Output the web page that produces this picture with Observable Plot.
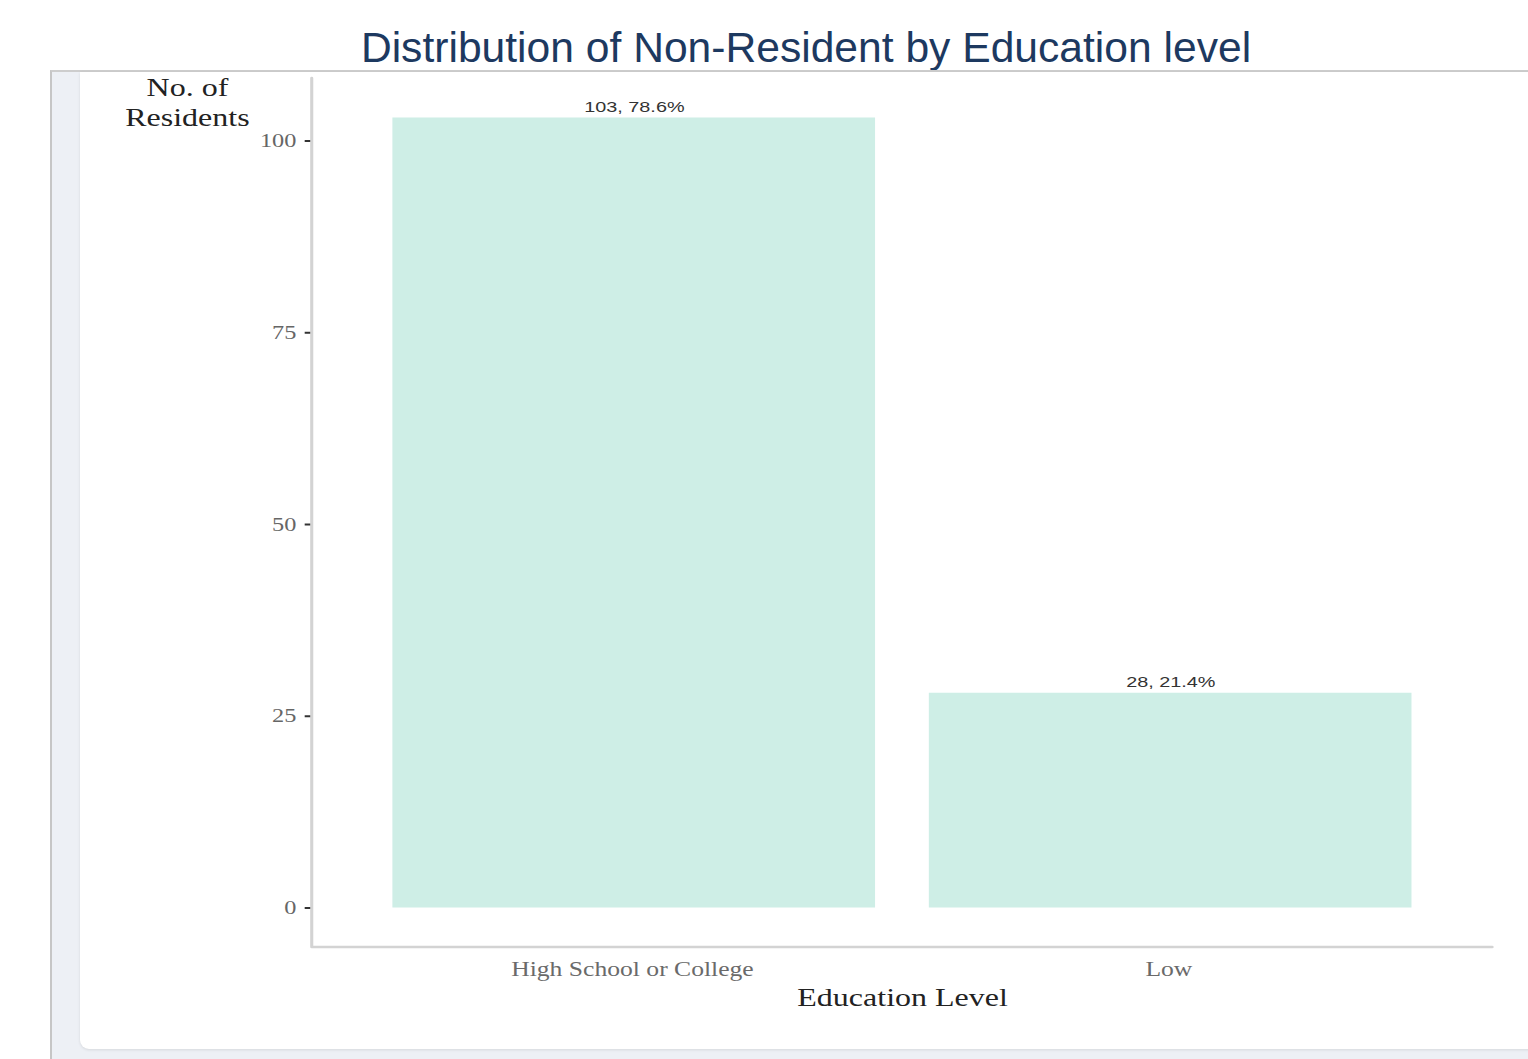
<!DOCTYPE html>
<html>
<head>
<meta charset="utf-8">
<script src="https://cdn.jsdelivr.net/npm/d3@7"></script>
<script src="https://cdn.jsdelivr.net/npm/@observablehq/plot@0.6"></script>
<style>
  html, body { margin: 0; padding: 0; width: 1528px; height: 1059px; overflow: hidden; background: #ffffff; }
  #title {
    position: absolute; left: 80px; width: 1452px; top: 26px;
    text-align: center; line-height: 1;
    font-family: "Liberation Sans", Arial, sans-serif; font-size: 42.6px; color: #1d3960;
  }
  #panel {
    position: absolute; left: 50px; top: 70px; width: 1478px; height: 989px;
    background: #edf0f5; border-left: 2px solid #c6c6c6; border-top: 2px solid #cdcdcd;
    box-sizing: border-box;
  }
  #card {
    position: absolute; left: 28px; top: 0; width: 1500px; height: 977px;
    background: #ffffff; border-bottom-left-radius: 9px;
    box-shadow: 0 1px 3px rgba(0, 0, 0, 0.10);
  }
  #chart { position: absolute; left: 80px; top: 70px; }
</style>
</head>
<body>
<div id="title">Distribution of Non-Resident by Education level</div>
<div id="panel"><div id="card"></div></div>
<div id="chart"></div>
<script>
// Non-residents by education level
const levels = ["High School or College", "Low"];
const counts = [103, 28];
const yTicks = [0, 25, 50, 75, 100];

const total = d3.sum(counts);
const rows = levels.map((level, i) => ({
  level,
  count: counts[i],
  pct: (100 * counts[i] / total).toFixed(1)
}));

// The drawing is laid out at W units wide and shown stretched to 1448px.
const W = 1131, H = 979, shownWidth = 1448;
const pad = 0.05 * d3.max(counts);
const serif = '"Liberation Serif", "Times New Roman", serif';
const sans = '"Liberation Sans", Arial, sans-serif';

// Left and bottom axis lines along the plot frame, joined at the corner.
const axisLines = (index, scales, values, dims) => {
  const {width, height, marginLeft, marginRight, marginTop, marginBottom} = dims;
  const p = document.createElementNS("http://www.w3.org/2000/svg", "path");
  p.setAttribute("d", `M${marginLeft},${marginTop}V${height - marginBottom}H${width - marginRight}`);
  p.setAttribute("fill", "none");
  p.setAttribute("stroke", "#d3d3d3");
  p.setAttribute("stroke-width", 2.4);
  p.setAttribute("stroke-linejoin", "round");
  p.setAttribute("stroke-linecap", "round");
  return p;
};

const chart = Plot.plot({
  width: W,
  height: H,
  marginLeft: 181,
  marginRight: 28,
  marginTop: 8,
  marginBottom: 102,
  style: {background: "transparent", overflow: "visible"},
  x: {domain: levels, paddingInner: 0.1, paddingOuter: 0.15},
  y: {domain: [-pad, d3.max(counts) + pad]},
  marks: [
    Plot.barY(rows, {x: "level", y: "count", fill: "#ceeee6"}),
    Plot.text(rows, {
      x: "level", y: "count",
      text: d => `${d.count}, ${d.pct}%`,
      lineAnchor: "bottom", dy: -6,
      fontFamily: sans, fontSize: 15.5, fill: "#333333"
    }),
    Plot.axisY(yTicks, {
      tickSize: 5.5, tickPadding: 7, strokeWidth: 2,
      stroke: "#333333", fill: "#666666",
      fontFamily: serif, fontSize: 19, label: null
    }),
    Plot.axisX({
      tickSize: 0, tickPadding: 14, dx: -1.5,
      fill: "#6a6a6a", fontFamily: serif, fontSize: 20, label: null
    }),
    axisLines,
    Plot.text(["Education Level"], {
      frameAnchor: "bottom", lineAnchor: "bottom", dy: 58,
      fontFamily: serif, fontSize: 25, fill: "#222222"
    }),
    Plot.text(["No. of\nResidents"], {
      frameAnchor: "top-left", lineAnchor: "top", textAnchor: "middle",
      dx: -97.6, dy: -4, lineHeight: 1.2,
      fontFamily: serif, fontSize: 25, fill: "#222222"
    })
  ]
});

chart.setAttribute("viewBox", `0 0 ${W} ${H}`);
chart.setAttribute("preserveAspectRatio", "none");
chart.setAttribute("width", shownWidth);
chart.setAttribute("height", H);
chart.style.width = shownWidth + "px";
chart.style.height = H + "px";
chart.style.maxWidth = "none";
document.getElementById("chart").appendChild(chart);
</script>
</body>
</html>
